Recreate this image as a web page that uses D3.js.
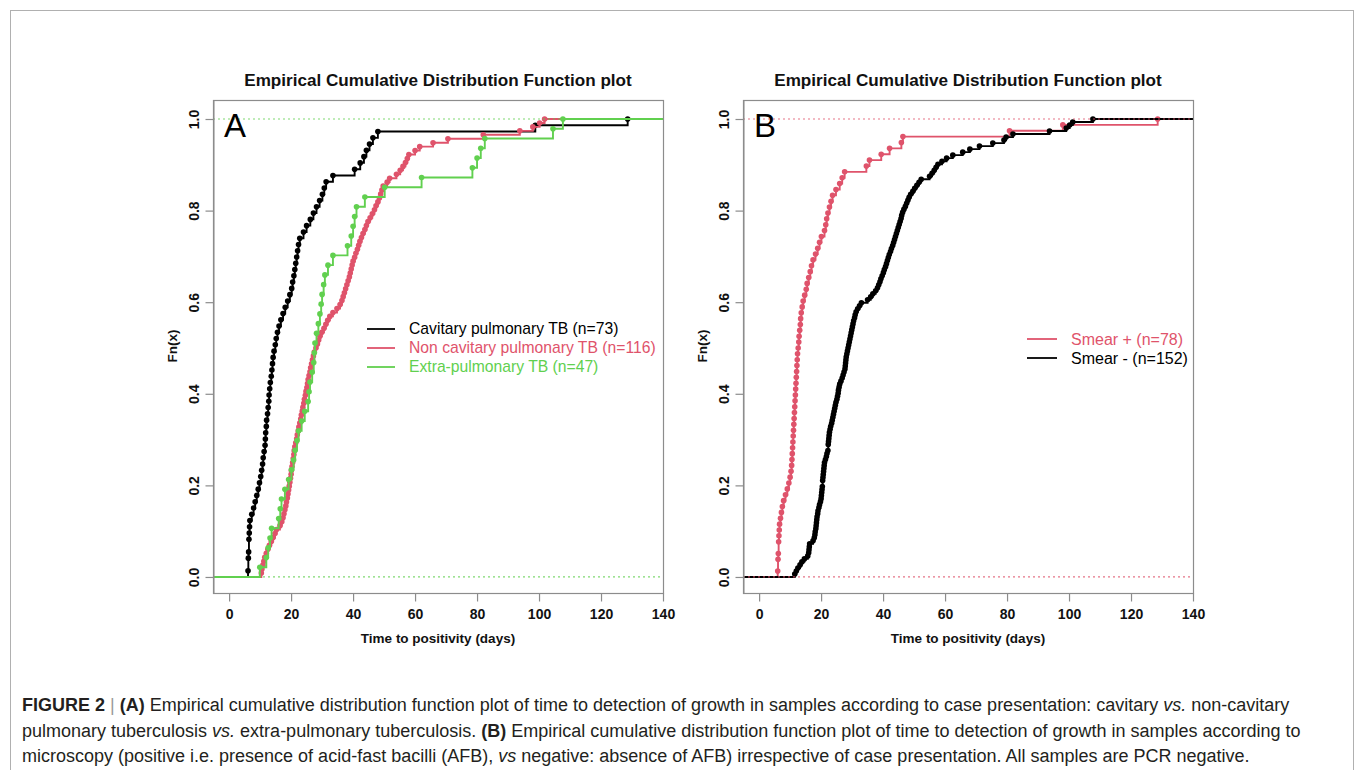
<!DOCTYPE html>
<html>
<head>
<meta charset="utf-8">
<script src="https://cdn.jsdelivr.net/npm/d3@7"></script>
<style>
  body { margin: 0; background: #fff; }
  svg { display: block; font-family: "Liberation Sans", Arial, sans-serif; }
</style>
</head>
<body>
<script>
// ---- data (time to positivity, days) ----
var xTicks = [0, 20, 40, 60, 80, 100, 120, 140];
var yTicks = [0, 0.2, 0.4, 0.6, 0.8, 1.0];

// panel A
var cavitaryDays = [6.1,6.2,6.2,6.3,6.4,6.4,6.5,6.6,6.7,7.3,7.9,8.4,8.9,9.4,9.8,10.2,10.5,10.8,11.0,11.3,
  11.6,11.7,11.8,12.0,12.1,12.4,12.6,12.8,12.9,13.1,13.3,13.6,13.8,14.0,14.2,14.5,14.9,15.2,15.6,16.1,
  16.7,17.4,18.1,18.9,19.6,20.2,20.5,20.9,21.2,21.5,21.8,22.1,22.4,22.8,24.0,25.0,26.2,27.2,28.2,29.2,
  30.1,30.7,31.3,33.5,40.5,42.3,43.5,44.3,45.3,46.4,48.0,98.8,128.6];
var nonCavitaryDays = [10.4,10.6,10.9,11.2,11.5,12.0,12.5,13.0,13.6,14.2,14.8,15.3,16.4,17.0,17.4,17.7,18.0,18.3,18.5,18.8,
  19.0,19.2,19.4,19.6,19.8,20.0,20.1,20.3,20.5,20.7,20.9,21.0,21.2,21.5,21.8,22.0,22.3,22.5,22.8,23.1,
  23.3,23.6,23.8,24.1,24.3,24.6,24.8,25.1,25.3,25.5,25.8,26.1,26.3,26.6,26.9,27.2,27.5,28.0,28.5,28.9,
  29.3,29.9,30.6,31.2,31.8,32.5,33.5,34.8,35.8,36.4,36.8,37.2,37.6,38.0,38.4,38.8,39.1,39.4,39.7,40.0,
  40.5,40.9,41.4,41.8,42.2,42.7,43.2,43.8,44.3,44.8,45.5,46.2,46.9,47.4,48.0,48.5,48.9,49.3,49.7,51.0,
  51.8,54.0,55.2,56.1,56.9,57.5,58.0,60.0,61.5,65.8,70.6,82.0,93.8,98.0,100.2,101.8];
var extraPulmDays = [9.9,12.0,12.6,13.2,13.7,16.0,16.5,16.9,18.0,19.2,20.1,20.8,21.3,21.9,22.4,23.4,24.4,25.5,25.8,26.1,
  26.8,27.3,27.5,27.7,28.2,28.8,29.3,29.7,30.0,30.5,30.9,31.9,33.5,38.2,39.4,40.0,40.5,41.1,43.8,50.2,
  62.1,78.5,80.0,81.2,82.5,104.5,107.7];

// panel B
var smearPosDays = [6.0,6.1,6.1,6.2,6.3,6.3,6.4,6.5,6.6,6.9,7.2,7.5,7.9,8.5,9.1,9.6,10.0,10.3,10.5,10.6,
  10.7,10.8,10.9,11.0,11.1,11.2,11.3,11.4,11.5,11.6,11.7,11.8,11.9,12.0,12.1,12.2,12.3,12.4,12.6,12.8,
  12.9,13.1,13.3,13.4,13.6,13.9,14.2,14.7,15.2,15.5,16.0,16.5,16.9,17.4,18.2,18.9,19.5,20.1,21.1,21.5,
  21.8,22.2,22.7,23.2,23.7,24.8,26.0,26.8,27.6,34.6,35.6,39.4,42.1,45.9,46.4,80.8,98.0,128.6];
var smearNegDays = [11.5,12.0,12.5,13.2,13.8,14.6,15.7,16.0,16.1,16.2,16.3,17.4,17.8,18.0,18.1,18.3,18.4,18.5,18.6,18.7,
  18.9,19.0,19.3,19.5,19.8,20.0,20.1,20.2,20.3,20.4,20.5,20.5,20.6,20.7,20.8,20.9,21.0,21.1,21.4,21.7,
  21.9,22.2,22.3,22.3,22.4,22.5,22.6,22.7,22.9,23.1,23.4,23.6,23.8,24.0,24.2,24.4,24.6,24.8,25.1,25.3,
  25.5,25.6,25.8,26.0,26.4,26.8,27.1,27.4,27.7,27.8,27.9,28.0,28.1,28.3,28.5,28.7,28.9,29.1,29.3,29.5,
  29.7,29.9,30.1,30.3,30.5,30.8,31.0,31.3,31.8,32.4,33.0,35.0,36.0,36.7,37.6,38.2,38.6,39.0,39.3,39.7,
  40.1,40.4,40.8,41.1,41.4,41.7,42.0,42.4,42.7,43.1,43.4,43.7,44.0,44.3,44.6,44.9,45.2,45.5,45.8,46.0,
  46.3,46.7,47.2,47.6,48.0,48.4,48.9,49.6,50.2,50.9,51.6,52.3,55.0,55.8,56.5,57.1,57.7,59.0,60.5,62.5,
  65.7,68.0,71.1,75.4,79.0,79.7,81.9,93.7,99.1,100.2,101.2,107.7];

var panelALabels = ["Cavitary pulmonary TB (n=73)", "Non cavitary pulmonary TB (n=116)", "Extra-pulmonary TB (n=47)"];
var panelBLabels = ["Smear + (n=78)", "Smear - (n=152)"];
var colBlack = "#000000", colRed = "#DF536B", colGreen = "#61D04F";

var W = 1357, H = 770;
var svg = d3.select("body").append("svg").attr("width", W).attr("height", H);

// outer figure frame
svg.append("rect").attr("x", 10.5).attr("y", 10.5).attr("width", 1343).attr("height", 780)
  .attr("fill", "none").attr("stroke", "#b0b0b0").attr("stroke-width", 1);

// turn raw values into ecdf knots
function ecdf(vals) {
  var s = vals.slice().sort(d3.ascending), n = s.length, out = [];
  s.forEach(function(v, i) {
    if (i < n - 1 && s[i + 1] === v) return;
    out.push({x: v, y: (i + 1) / n});
  });
  return out;
}

function drawPanel(left, letter, series, dotColor, legend) {
  var x = d3.scaleLinear().domain([-5.2, 140]).range([left, left + 450]);
  var y = d3.scaleLinear().domain([-0.035, 1.0415]).range([593, 100]);
  var g = svg.append("g");
  var id = "clip" + letter;

  g.append("clipPath").attr("id", id).append("rect")
    .attr("x", x.range()[0]).attr("y", 100).attr("width", 450).attr("height", 493);

  var plot = g.append("g").attr("clip-path", "url(#" + id + ")");

  series.forEach(function(s) {
    var k = ecdf(s.values);
    var pts = [{x: -10, y: 0}].concat(k).concat([{x: 150, y: 1}]);
    plot.append("path")
      .attr("d", d3.line().x(function(d) { return x(d.x); }).y(function(d) { return y(d.y); })
        .curve(d3.curveStepAfter)(pts))
      .attr("fill", "none").attr("stroke", s.color).attr("stroke-width", 1.9);
    plot.selectAll(null).data(k).enter().append("circle")
      .attr("cx", function(d) { return x(d.x); })
      .attr("cy", function(d) { return y(d.y); })
      .attr("r", 2.8).attr("fill", s.color);
  });

  // dotted 0 / 1 reference lines
  [0, 1].forEach(function(v) {
    plot.append("line").attr("x1", x.range()[0]).attr("x2", x.range()[1])
      .attr("y1", y(v)).attr("y2", y(v))
      .attr("stroke", dotColor).attr("stroke-width", 1.2).attr("stroke-dasharray", "2,3").attr("opacity", 0.8);
  });

  // box
  g.append("rect").attr("x", x.range()[0] + 0.5).attr("y", 100.5).attr("width", 450).attr("height", 493)
    .attr("fill", "none").attr("stroke", "#8c8c8c").attr("stroke-width", 1.2);

  // x axis
  var xa = g.append("g").attr("transform", "translate(0,593.5)")
    .call(d3.axisBottom(x).tickValues(xTicks).tickSize(8).tickSizeOuter(0).tickPadding(8));
  xa.select(".domain").attr("stroke", "#8c8c8c").attr("d", "M" + x(0) + ",0H" + x(140));
  xa.selectAll(".tick line").attr("stroke", "#8c8c8c").attr("stroke-width", 1.2);
  xa.selectAll(".tick text").attr("font-size", 14).attr("font-weight", "bold").attr("fill", "#111")
    .attr("font-family", "Liberation Sans, Arial, sans-serif");

  // y axis
  var ya = g.append("g").attr("transform", "translate(" + (x.range()[0] + 0.5) + ",0)")
    .call(d3.axisLeft(y).tickValues(yTicks).tickFormat(d3.format(".1f")).tickSize(8).tickSizeOuter(0));
  ya.select(".domain").attr("stroke", "#8c8c8c");
  ya.selectAll(".tick line").attr("stroke", "#8c8c8c").attr("stroke-width", 1.2);
  ya.selectAll(".tick text")
    .attr("font-size", 14).attr("font-weight", "bold").attr("fill", "#111")
    .attr("font-family", "Liberation Sans, Arial, sans-serif")
    .attr("text-anchor", "middle").attr("x", 0).attr("dy", 0)
    .attr("transform", "translate(-15,0) rotate(-90)");

  // titles
  var cx = x.range()[0] + 225;
  g.append("text").attr("x", cx).attr("y", 86).attr("text-anchor", "middle")
    .attr("font-size", 17.1).attr("font-weight", "bold").attr("fill", "#111")
    .text("Empirical Cumulative Distribution Function plot");
  g.append("text").attr("x", cx).attr("y", 643).attr("text-anchor", "middle")
    .attr("font-size", 13.5).attr("font-weight", "bold").attr("fill", "#111")
    .text("Time to positivity (days)");
  g.append("text").attr("transform", "translate(" + (x.range()[0] - 36) + ",346) rotate(-90)")
    .attr("text-anchor", "middle").attr("font-size", 13.5).attr("font-weight", "bold").attr("fill", "#111")
    .text("Fn(x)");
  g.append("text").attr("x", x.range()[0] + 11).attr("y", 137)
    .attr("font-size", 33).attr("fill", "#000").text(letter);

  // legend (no box)
  var lg = g.append("g");
  legend.items.forEach(function(it, i) {
    var ly = legend.y + i * legend.step;
    lg.append("line").attr("x1", legend.x).attr("x2", legend.x + legend.len)
      .attr("y1", ly).attr("y2", ly).attr("stroke", it.color).attr("stroke-width", 1.8);
    lg.append("text").attr("x", legend.x + legend.len + legend.gap).attr("y", ly).attr("dy", "0.35em")
      .attr("font-size", legend.size).attr("fill", it.color).text(it.label);
  });
}

drawPanel(213, "A", [
  {values: cavitaryDays, color: colBlack},
  {values: nonCavitaryDays, color: colRed},
  {values: extraPulmDays, color: colGreen}
], colGreen, {
  x: 367, y: 329, step: 19, len: 28, gap: 14, size: 15.7,
  items: [
    {label: panelALabels[0], color: colBlack},
    {label: panelALabels[1], color: colRed},
    {label: panelALabels[2], color: colGreen}
  ]
});

drawPanel(743, "B", [
  {values: smearPosDays, color: colRed},
  {values: smearNegDays, color: colBlack}
], colRed, {
  x: 1027, y: 339, step: 19, len: 30, gap: 14, size: 16,
  items: [
    {label: panelBLabels[0], color: colRed},
    {label: panelBLabels[1], color: colBlack}
  ]
});

// caption
var capLines = [
  [["FIGURE 2", "b"], [" | ", "bar"], ["(A)", "b"], [" Empirical cumulative distribution function plot of time to detection of growth in samples according to case presentation: cavitary ", ""], ["vs.", "i"], [" non-cavitary", ""]],
  [["pulmonary tuberculosis ", ""], ["vs.", "i"], [" extra-pulmonary tuberculosis. ", ""], ["(B)", "b"], [" Empirical cumulative distribution function plot of time to detection of growth in samples according to", ""]],
  [["microscopy (positive i.e. presence of acid-fast bacilli (AFB), ", ""], ["vs", "i"], [" negative: absence of AFB) irrespective of case presentation. All samples are PCR negative.", ""]]
];
var capY = [711, 737, 762];
capLines.forEach(function(line, i) {
  var t = svg.append("text").attr("x", 22).attr("y", capY[i]).attr("font-size", 18).attr("fill", "#231f20")
    .attr("xml:space", "preserve");
  line.forEach(function(p) {
    var ts = t.append("tspan").text(p[0]);
    if (p[1] === "b") ts.attr("font-weight", "bold");
    if (p[1] === "i") ts.attr("font-style", "italic");
    if (p[1] === "bar") ts.attr("fill", "#9a9a9a");
  });
});
</script>
</body>
</html>
